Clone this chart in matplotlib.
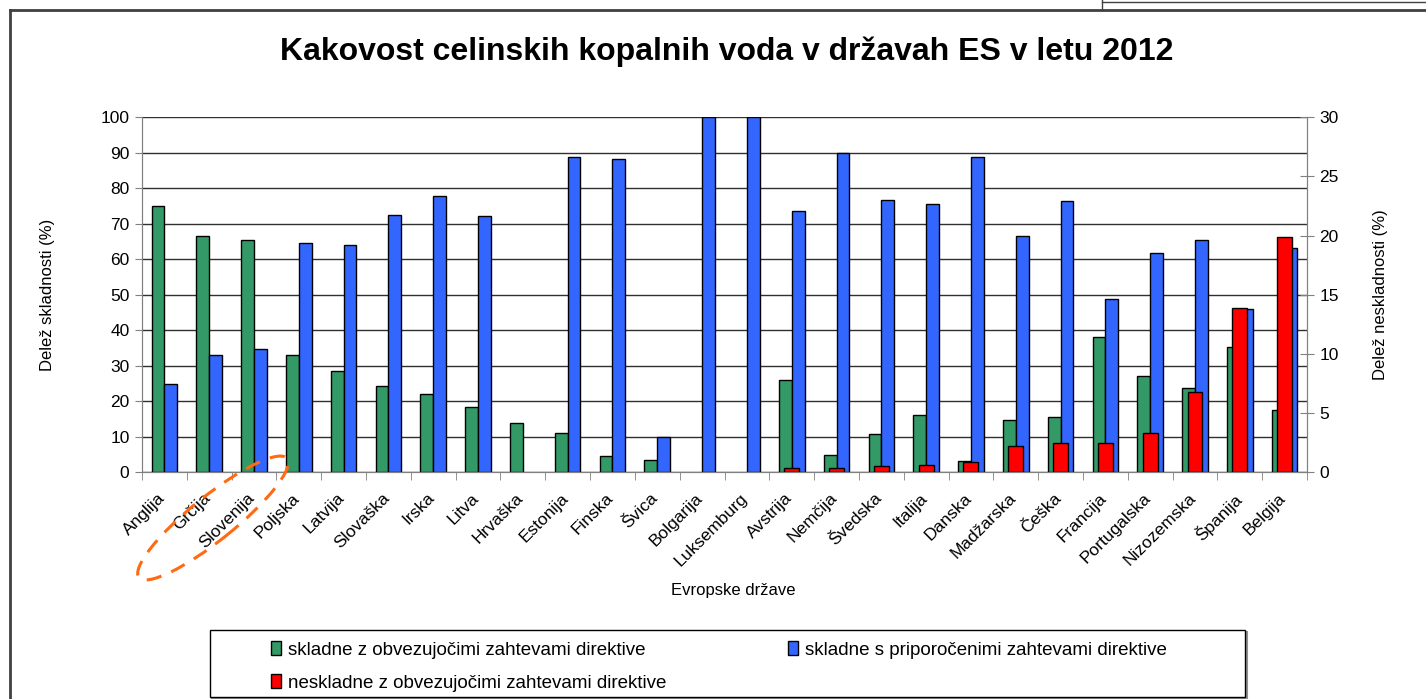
"""
Kakovost celinskih kopalnih voda v drzavah ES v letu 2012 - recreated bar chart.
"""

import numpy as np
import matplotlib
matplotlib.use("Agg")
import matplotlib.pyplot as plt
import matplotlib.transforms as mtransforms
from matplotlib.patches import Ellipse, Patch, Rectangle
from matplotlib.lines import Line2D

plt.rcParams["font.family"] = ["Liberation Sans", "DejaVu Sans"]

# Data
countries = [
    "Anglija", "Grčija", "Slovenija", "Poljska", "Latvija", "Slovaška", "Irska",
    "Litva", "Hrvaška", "Estonija", "Finska", "Švica", "Bolgarija", "Luksemburg",
    "Avstrija", "Nemčija", "Švedska", "Italija", "Danska", "Madžarska", "Češka",
    "Francija", "Portugalska", "Nizozemska", "Španija", "Belgija",
]
skladne_obvezne = [75.0, 66.7, 65.4, 33.1, 28.5, 24.2, 22.0, 18.4, 14.0, 11.1, 4.5, 3.5, 0.0,
                   0.0, 25.9, 4.9, 10.9, 16.2, 3.3, 14.7, 15.5, 38.1, 27.0, 23.7, 35.2, 17.5]
skladne_priporocene = [25.0, 33.1, 34.6, 64.7, 64.0, 72.6, 77.8, 72.3, 0.0, 88.7, 88.2, 10.0, 100.0,
                       100.0, 73.7, 89.9, 76.7, 75.6, 88.7, 66.5, 76.3, 48.9, 61.9, 65.4, 46.0, 63.1]
neskladne = [0, 0, 0, 0, 0, 0, 0, 0, 0, 0, 0, 0, 0, 0,
             0.4, 0.4, 0.5, 0.6, 0.9, 2.2, 2.5, 2.5, 3.3, 6.8, 13.9, 19.9]

legend_labels = [
    "skladne z obvezujočimi zahtevami direktive",
    "neskladne z obvezujočimi zahtevami direktive",
    "skladne s priporočenimi zahtevami direktive",
]

GREEN = "#339966"
BLUE = "#3366FF"
RED = "#FF0000"
W, H = 1426, 699


def main():
    fig = plt.figure(figsize=(W / 100, H / 100), dpi=100)
    ax = fig.add_axes([142 / W, 1 - 472.3 / H, 1165 / W, 355 / H])
    ax2 = ax.twinx()

    x = np.arange(len(countries))
    g = np.array(skladne_obvezne)
    b = np.array(skladne_priporocene)
    r = np.array(neskladne, dtype=float)
    bw = 0.286

    mg, mb, mr = g > 0, b > 0, r > 0
    ax.bar(x[mg] - bw / 2, g[mg], width=bw, color=GREEN, edgecolor="black", linewidth=1, zorder=3)
    ax.bar(x[mb] + bw / 2, b[mb], width=bw, color=BLUE, edgecolor="black", linewidth=1, zorder=3)
    ax2.bar(x[mr], r[mr], width=1 / 3, color=RED, edgecolor="black", linewidth=1, zorder=3)

    # left axis
    ax.set_xlim(-0.5, len(countries) - 0.5)
    ax.set_ylim(0, 100)
    ax.set_yticks(np.arange(0, 101, 10))
    ax.yaxis.grid(True, color="#303030", linewidth=1)
    ax.set_axisbelow(True)
    ax.tick_params(axis="y", labelsize=12.5, length=5, color="#808080", pad=4)

    # category boundaries as ticks, labels in the middle
    ax.set_xticks(x)
    ax.set_xticklabels(countries, rotation=45, ha="right", rotation_mode="anchor", fontsize=12.5)
    ax.set_xticks(np.arange(-0.5, len(countries)), minor=True)
    ax.tick_params(axis="x", which="major", length=0, pad=10)
    ax.tick_params(axis="x", which="minor", length=6, color="#808080")
    shift = mtransforms.ScaledTranslation(-0.07, -0.04, fig.dpi_scale_trans)
    for lab in ax.get_xticklabels():
        lab.set_transform(lab.get_transform() + shift)

    ax.spines["top"].set_visible(False)
    ax2.spines["top"].set_visible(False)
    for s in ["left", "bottom", "right"]:
        ax.spines[s].set_color("#808080")
        ax2.spines[s].set_color("#808080")

    # right axis
    ax2.set_ylim(0, 30)
    ax2.set_yticks(np.arange(0, 31, 5))
    ax2.tick_params(axis="y", labelsize=12.5, length=10, direction="inout", color="#808080", pad=4)

    # texts
    fig.text(727 / W, 1 - 52 / H, "Kakovost celinskih kopalnih voda v državah ES v letu 2012",
             ha="center", va="center", fontsize=23, fontweight="bold")
    fig.text(48 / W, 1 - 295 / H, "Delež skladnosti (%)", rotation=90,
             ha="center", va="center", fontsize=12)
    fig.text(1380 / W, 1 - 295 / H, "Delež neskladnosti (%)", rotation=90,
             ha="center", va="center", fontsize=12)
    fig.text(733 / W, 1 - 591 / H, "Evropske države", ha="center", va="center", fontsize=12)

    # legend box drawn as a rectangle, entries without frame
    fig.add_artist(Rectangle((212 / W, 1 - 699 / H), 1035 / W, 67 / H, transform=fig.transFigure,
                             facecolor="none", edgecolor="#909090", linewidth=1.5))
    fig.add_artist(Rectangle((210 / W, 1 - 697 / H), 1035 / W, 67 / H, transform=fig.transFigure,
                             facecolor="white", edgecolor="black", linewidth=1))
    handles = [
        Patch(facecolor=GREEN, edgecolor="black", linewidth=1),
        Patch(facecolor=RED, edgecolor="black", linewidth=1),
        Patch(facecolor=BLUE, edgecolor="black", linewidth=1),
    ]
    leg = fig.legend(handles, legend_labels, ncol=2, fontsize=13.5,
                     loc="center left", bbox_to_anchor=(271 / W, 1 - 666.5 / H),
                     frameon=False, handlelength=0.55, handleheight=0.7, handletextpad=0.35,
                     borderaxespad=0, borderpad=0, labelspacing=0.85, columnspacing=6.5)
    leg.set_zorder(5)

    # outer chart border and the line pieces at the top
    fig.add_artist(Line2D([10 / W, 10 / W], [0, 1 - 10 / H], transform=fig.transFigure,
                          color="#404040", linewidth=2))
    fig.add_artist(Line2D([10 / W, 1], [1 - 10 / H, 1 - 10 / H], transform=fig.transFigure,
                          color="#404040", linewidth=2))
    fig.add_artist(Line2D([1102 / W, 1102 / W], [1, 1 - 10 / H], transform=fig.transFigure,
                          color="#404040", linewidth=1))
    fig.add_artist(Line2D([1102 / W, 1], [1 - 1.5 / H, 1 - 1.5 / H], transform=fig.transFigure,
                          color="#404040", linewidth=1))

    # orange dashed ellipse round Grčija / Slovenija
    ell = Ellipse((2.13, (H - 518) / 100), width=1.90, height=0.44, angle=38.8,
                  transform=fig.dpi_scale_trans, fill=False, edgecolor="#FF6A13",
                  linewidth=2.2, linestyle=(0, (5, 3.5)))
    fig.add_artist(ell)

    fig.savefig("out.png", dpi=100)
    plt.close(fig)


if __name__ == "__main__":
    main()
